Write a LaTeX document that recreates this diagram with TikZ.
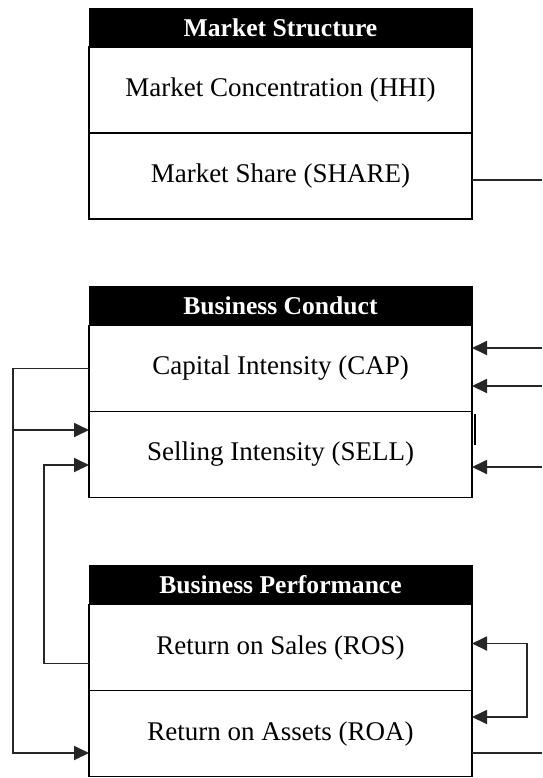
\documentclass[tikz,border=0pt]{standalone}
\usepackage{fontspec}
\setmainfont{Liberation Serif}
\usetikzlibrary{arrows.meta,positioning}

\begin{document}
\begin{tikzpicture}[
    x=0.5pt, y=-0.5pt,
    font=\fontsize{13.5}{16}\selectfont,
    >={Triangle[length=7.5pt,width=7pt]},
    head/.style={draw, fill=black, text=white, font=\fontsize{12.8}{16}\selectfont\bfseries, minimum width=191.5pt, minimum height=19.5pt, inner sep=0pt, outer sep=0pt},
    cell/.style={draw, line width=0.7pt, minimum width=191.5pt, minimum height=43pt, inner sep=0pt, outer sep=0pt},
    link/.style={draw=black!85, line width=0.9pt}
]
\useasboundingbox (0,0) rectangle (542,778);

% Market structure
\node[head] (ms) at (280.5,27.5) {Market Structure};
\node[cell, below=0pt of ms] (hhi) {Market Concentration (HHI)};
\node[cell, below=0pt of hhi] (share) {Market Share (SHARE)};

% Business conduct
\node[head] (bc) at (280.5,306) {Business Conduct};
\node[cell, below=0pt of bc] (cap) {Capital Intensity (CAP)};
\node[cell, below=0pt of cap] (sell) {Selling Intensity (SELL)};

% Business performance
\node[head] (bp) at (280.5,585) {Business Performance};
\node[cell, below=0pt of bp] (ros) {Return on Sales (ROS)};
\node[cell, below=0pt of ros] (roa) {Return on Assets (ROA)};

% loose ends and bends
\coordinate (shareout) at (542,180);
\coordinate (capin1) at (542,348);
\coordinate (capin2) at (542,386);
\coordinate (sellin) at (542,467);
\coordinate (roaout) at (542,753);
\coordinate (leftdown) at (13,753);
\coordinate (leftbranch) at (13,430);
\coordinate (midup) at (44,465);
\coordinate (rightdown) at (527,717);

% right side
\draw[link] (share.east |- shareout) -- (shareout);
\draw[link,->] (capin1) -- (cap.east |- capin1);
\draw[link,->] (capin2) -- (cap.east |- capin2);
\draw[link,->] (sellin) -- (sell.east |- sellin);
\draw[line width=1.4pt] ([shift={(3,2)}]sell.north east) -- ++(0,31);
\draw[link,<->] ([yshift=2pt]ros.east) -| (rightdown) -- (roa.east |- rightdown);
\draw[link] (roa.east |- roaout) -- (roaout);

% left side
\draw[link,->] (cap.west) -| (leftdown) -- (roa.west |- leftdown);
\draw[link,->] (leftbranch) -- (sell.west |- leftbranch);
\draw[link,->] ([yshift=-8pt]ros.west) -| (midup) -- (sell.west |- midup);
\end{tikzpicture}
\end{document}
